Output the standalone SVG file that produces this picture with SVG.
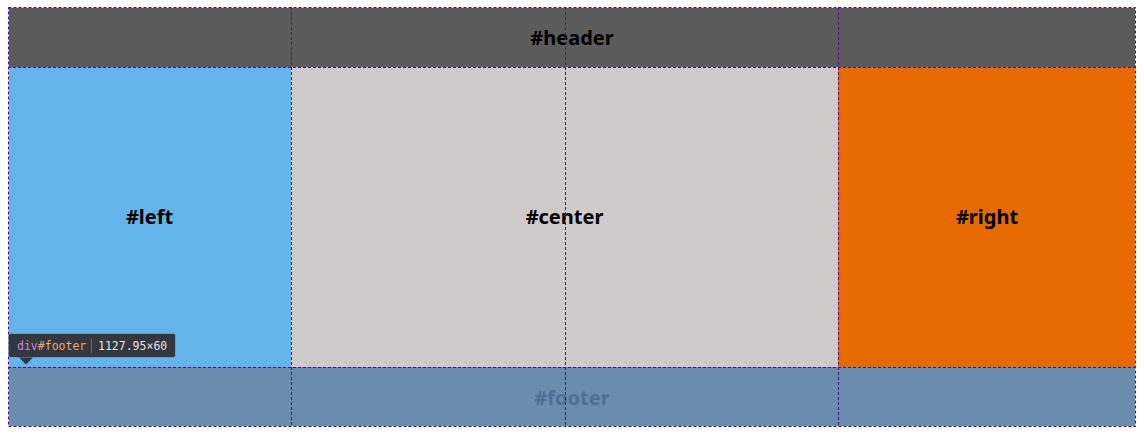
<svg xmlns="http://www.w3.org/2000/svg" width="1144" height="437" viewBox="0 0 1144 437">
<style>
.lbl{font-family:"Noto Sans","Open Sans","DejaVu Sans",sans-serif;font-weight:bold;font-size:20px;text-anchor:middle;fill:#000}
.dash{stroke:#4a0f8c;stroke-width:1;stroke-dasharray:3 2;fill:none}
.tip{font-family:"DejaVu Sans Mono","Liberation Mono",monospace;font-size:11.5px}
</style>
<rect width="1144" height="437" fill="#ffffff"/>
<g id="header">
<rect x="8" y="7" width="1128" height="60" fill="#5b5b5b"/>
<text class="lbl" x="572" y="45">#header</text>
</g>
<g id="left">
<rect x="8" y="67" width="283" height="300" fill="#64b4ec"/>
<text class="lbl" x="149.5" y="224">#left</text>
</g>
<g id="center">
<rect x="291" y="67" width="547" height="300" fill="#cecac9"/>
<text class="lbl" x="564.5" y="224">#center</text>
</g>
<g id="right">
<rect x="838" y="67" width="298" height="300" fill="#e66a00"/>
<text class="lbl" x="987" y="224">#right</text>
</g>
<g id="footer">
<rect x="8" y="367" width="1128" height="60" fill="#6a8caf"/>
<text class="lbl" x="572" y="405" style="fill:#4e6f94">#footer</text>
</g>
<g id="connectors">
<rect x="8.5" y="7.5" width="1127" height="419" fill="none" stroke="#ffffff" stroke-width="1"/>
<rect x="8.5" y="7.5" width="1127" height="419" class="dash"/>
<line x1="8" y1="67.5" x2="1136" y2="67.5" class="dash"/>
<line x1="8" y1="367.5" x2="1136" y2="367.5" class="dash"/>
<line x1="291.5" y1="7" x2="291.5" y2="427" class="dash"/>
<line x1="838.5" y1="7" x2="838.5" y2="427" class="dash"/>
<line x1="565.5" y1="7" x2="565.5" y2="427" class="dash"/>
</g>
<g id="tooltip">
<rect x="8.5" y="333.5" width="167" height="24" rx="2" fill="#333740" stroke="#8fb4d8" stroke-width="0.6"/>
<polygon points="19,357.5 33,357.5 26,364.5" fill="#333740"/>
<text class="tip" x="17" y="350"><tspan fill="#d283d6">div</tspan><tspan fill="#f0a56a">#footer</tspan></text>
<line x1="91.5" y1="339" x2="91.5" y2="353" stroke="#6b6e75" stroke-width="1"/>
<text class="tip" x="98" y="350" fill="#e3e3e3">1127.95×60</text>
</g>
</svg>
